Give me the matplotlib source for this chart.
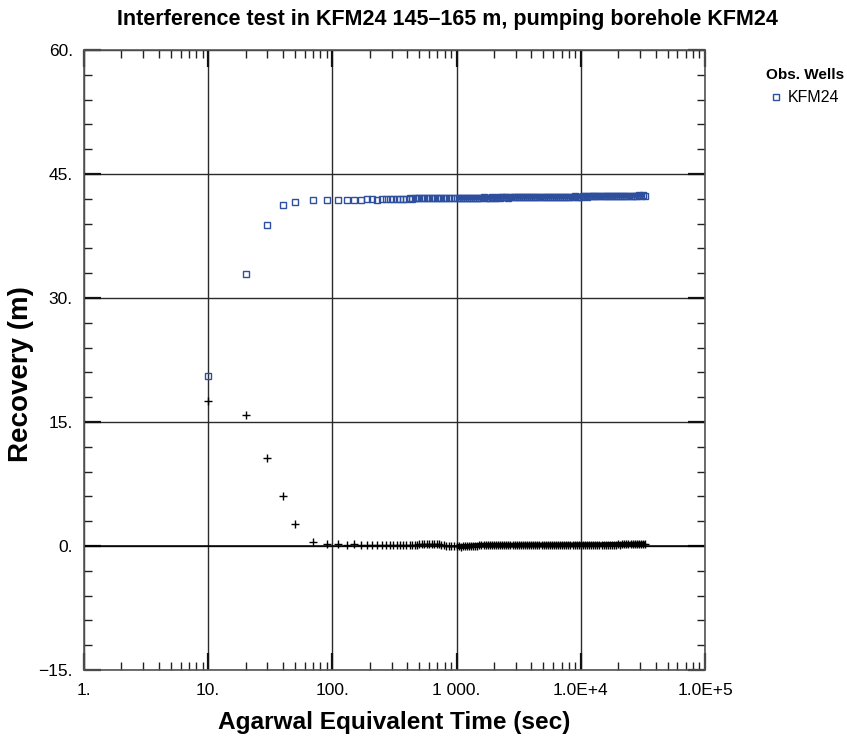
import matplotlib
matplotlib.use('Agg')
import matplotlib.pyplot as plt
from matplotlib.ticker import FixedLocator, LogLocator, MultipleLocator, NullFormatter

# Interference test KFM24 - recovery vs Agarwal equivalent time

plt.rcParams['font.family'] = ['Liberation Sans', 'DejaVu Sans']

blue = '#2d4f9e'

# Agarwal equivalent time (s)
time_early = [10, 20, 30, 40, 50, 70, 90, 110, 130, 150, 170,
              190, 210, 230, 250, 270, 290, 310, 330, 350, 370, 390]
time_mid = [420, 440, 460, 480, 500, 525, 550, 575, 600, 630,
            660, 690, 720, 755, 790, 825, 865, 905, 950]
time_late = [1000, 1039, 1080, 1122, 1166, 1212, 1259, 1308, 1359, 1413,
             1468, 1525, 1585, 1647, 1711, 1778, 1848, 1920, 1995, 2073,
             2154, 2239, 2326, 2417, 2512, 2610, 2712, 2818, 2929, 3043,
             3162, 3286, 3415, 3548, 3687, 3831, 3981, 4137, 4299, 4467,
             4642, 4823, 5012, 5208, 5412, 5623, 5843, 6072, 6310, 6556,
             6813, 7079, 7356, 7644, 7943, 8254, 8577, 8913, 9261, 9624,
             10000, 10390, 10800, 11220, 11660, 12120, 12590, 13080, 13590, 14130,
             14680, 15250, 15850, 16470, 17110, 17780, 18480, 19200, 19950, 20730,
             21540, 22390, 23260, 24170, 25120, 26100, 27120, 28180, 29290, 30430,
             31620, 32860]

# recovery in KFM24 (m)
recovery_early = [20.6, 32.9, 38.8, 41.2, 41.6, 41.85, 41.9, 41.9, 41.9, 41.9, 41.9,
                  41.95, 42.0, 41.9, 42.0, 42.0, 41.95, 42.0, 42.0, 42.0, 42.0, 42.0]
recovery_mid = [42.05, 42.0, 42.05, 42.05, 42.05, 42.1, 42.05, 42.1, 42.1, 42.05,
                42.1, 42.1, 42.1, 42.1, 42.1, 42.1, 42.15, 42.1, 42.1]
recovery_late = [42.1, 42.15, 42.1, 42.1, 42.15, 42.1, 42.15, 42.15, 42.1, 42.15,
                 42.15, 42.15, 42.15, 42.2, 42.15, 42.15, 42.15, 42.2, 42.15, 42.15,
                 42.2, 42.15, 42.2, 42.2, 42.2, 42.15, 42.2, 42.2, 42.2, 42.2,
                 42.2, 42.2, 42.2, 42.2, 42.25, 42.2, 42.2, 42.2, 42.25, 42.2,
                 42.2, 42.25, 42.25, 42.2, 42.25, 42.25, 42.25, 42.25, 42.2, 42.25,
                 42.25, 42.25, 42.25, 42.25, 42.25, 42.25, 42.25, 42.3, 42.25, 42.25,
                 42.25, 42.3, 42.3, 42.25, 42.3, 42.3, 42.3, 42.3, 42.3, 42.3,
                 42.3, 42.3, 42.35, 42.3, 42.3, 42.35, 42.3, 42.35, 42.35, 42.35,
                 42.35, 42.35, 42.35, 42.4, 42.35, 42.4, 42.4, 42.4, 42.45, 42.4,
                 42.45, 42.4]

# recovery derivative (m)
deriv_early = [17.5, 15.9, 10.7, 6.1, 2.7, 0.45, 0.2, 0.22, 0.1, 0.2, 0.1,
               0.15, 0.12, 0.1, 0.12, 0.1, 0.12, 0.1, 0.12, 0.1, 0.12, 0.15]
deriv_mid = [0.12, 0.15, 0.15, 0.18, 0.2, 0.22, 0.25, 0.28, 0.3, 0.3,
             0.28, 0.25, 0.2, 0.15, 0.1, 0.05, 0.0, -0.05, -0.05]
deriv_late = [-0.05, -0.05, -0.08, -0.05, -0.05, -0.05, -0.03, 0.0, 0.02, 0.05,
              0.05, 0.08, 0.1, 0.1, 0.1, 0.1, 0.1, 0.1, 0.1, 0.1,
              0.1, 0.1, 0.1, 0.1, 0.1, 0.1, 0.1, 0.1, 0.1, 0.1,
              0.1, 0.12, 0.1, 0.12, 0.12, 0.1, 0.12, 0.12, 0.12, 0.12,
              0.12, 0.12, 0.12, 0.12, 0.12, 0.12, 0.12, 0.12, 0.12, 0.12,
              0.12, 0.15, 0.12, 0.15, 0.15, 0.15, 0.12, 0.15, 0.15, 0.15,
              0.15, 0.15, 0.15, 0.15, 0.15, 0.15, 0.15, 0.15, 0.15, 0.15,
              0.15, 0.18, 0.15, 0.18, 0.18, 0.18, 0.18, 0.18, 0.2, 0.18,
              0.2, 0.2, 0.2, 0.2, 0.22, 0.2, 0.22, 0.22, 0.25, 0.22,
              0.25, 0.25]

x_ticks = [1, 10, 100, 1000, 1e4, 1e5]
x_labels = ['1.', '10.', '100.', '1 000.', '1.0E+4', '1.0E+5']
y_ticks = [-15, 0, 15, 30, 45, 60]
y_labels = ['\u221215.', '0.', '15.', '30.', '45.', '60.']

time_s = time_early + time_mid + time_late
recovery = recovery_early + recovery_mid + recovery_late
derivative = deriv_early + deriv_mid + deriv_late

fig = plt.figure(figsize=(8.47, 7.42), dpi=100)
ax = fig.add_axes([0.0992, 0.0970, 0.7332, 0.8356])

# densely logged part merges into a solid band
ax.plot(time_late, deriv_late, color='black', linewidth=3.6, solid_capstyle='butt', zorder=3)
ax.plot(time_late, recovery_late, color=blue, linewidth=3.4, solid_capstyle='butt', zorder=4)

ax.plot(time_s, derivative, linestyle='none', marker='+', color='black',
        markersize=6, markeredgewidth=1.0, zorder=3)
ax.plot(time_s, recovery, linestyle='none', marker='s', markerfacecolor='none',
        markeredgecolor=blue, markersize=3.8, markeredgewidth=1.0, zorder=4,
        label='KFM24')

ax.set_xscale('log')
ax.set_xlim(1, 1e5)
ax.set_ylim(-15, 60)

ax.xaxis.set_major_locator(FixedLocator(x_ticks))
ax.set_xticklabels(x_labels, fontsize=12.5)
ax.xaxis.set_minor_locator(LogLocator(base=10, subs=range(2, 10), numticks=20))
ax.xaxis.set_minor_formatter(NullFormatter())
ax.set_yticks(y_ticks)
ax.set_yticklabels(y_labels, fontsize=12.5)
ax.yaxis.set_minor_locator(MultipleLocator(3))

ax.tick_params(which='major', direction='in', length=12, width=1.6,
               top=True, right=True, color='#111111')
ax.tick_params(axis='x', which='major', pad=9)
ax.tick_params(axis='y', which='major', pad=8)
ax.tick_params(which='minor', direction='in', length=6, width=1.0,
               top=True, right=True, color='#222222')

ax.grid(which='major', color='#2a2a2a', linewidth=1.0)
ax.axhline(0, color='black', linewidth=1.1, zorder=2)
for s in ax.spines.values():
    s.set_color('#555555')
    s.set_linewidth(1.2)

ax.set_xlabel('Agarwal Equivalent Time (sec)', fontsize=17.6, fontweight='bold', labelpad=10)
ax.set_ylabel('Recovery (m)', fontsize=20, fontweight='bold')
ax.yaxis.set_label_coords(-0.080, 0.477)
fig.text(447 / 847, 1 - 20 / 742, 'Interference test in KFM24 145\u2013165 m, pumping borehole KFM24',
         ha='center', va='center', fontsize=15.5, fontweight='bold')

leg = ax.legend(title='Obs. Wells', loc='upper left', bbox_to_anchor=(755 / 847, 1 - 57 / 742),
                bbox_transform=fig.transFigure, frameon=False, fontsize=11.5,
                handlelength=0.5, handletextpad=0.5, borderpad=0.2, labelspacing=0.5,
                title_fontproperties={'weight': 'bold', 'size': 11})

plt.savefig('out.png', dpi=100)
